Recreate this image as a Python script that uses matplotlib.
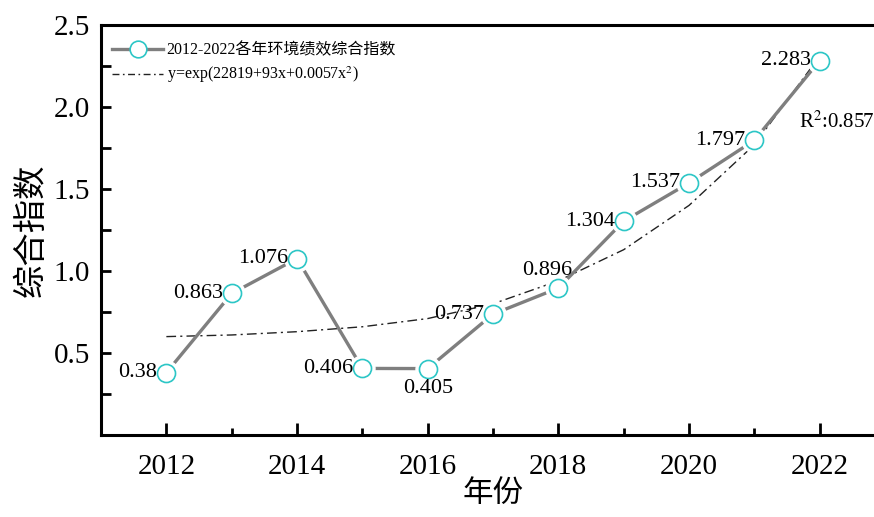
import matplotlib
matplotlib.use("Agg")
import matplotlib.pyplot as plt
from matplotlib.ticker import MultipleLocator
from matplotlib.lines import Line2D

plt.rcParams['font.family'] = ['Liberation Serif', 'Noto Sans CJK SC']
plt.rcParams['mathtext.fontset'] = 'stix'

years = [2012, 2013, 2014, 2015, 2016, 2017, 2018, 2019, 2020, 2021, 2022]
index_values = [0.38, 0.863, 1.076, 0.406, 0.405, 0.737, 0.896, 1.304, 1.537, 1.797, 2.283]
fit_values = [0.60, 0.61, 0.63, 0.66, 0.71, 0.80, 0.94, 1.13, 1.40, 1.77, 2.31]
value_labels = ['0.38', '0.863', '1.076', '0.406', '0.405', '0.737', '0.896',
                '1.304', '1.537', '1.797', '2.283']
series_name = '2012-2022各年环境绩效综合指数'
fit_name = 'y=exp(22819+93x+0.0057x$^2$)'
r2_text = 'R$^2$:0.857'

line_gray = '#7f7f7f'
ring_cyan = '#2cc6c6'

fig = plt.figure(figsize=(8.74, 5.17), dpi=100)
ax = fig.add_axes([0.1156, 0.1586, 0.897, 0.793])

# fitted trend curve
ax.plot(years, fit_values, color='#222222', lw=1.0, linestyle=(0, (7, 3, 1.5, 3)), zorder=2)

# main series: gray line, white halo round each marker, then the cyan ring
ax.plot(years, index_values, color=line_gray, lw=2.4, zorder=3)
ax.plot(years, index_values, linestyle='none', marker='o', markersize=18,
        markerfacecolor='white', markeredgecolor='white', zorder=4)
ax.plot(years, index_values, linestyle='none', marker='o', markersize=13,
        markerfacecolor='white', markeredgecolor=ring_cyan, markeredgewidth=1.2, zorder=5)

# value labels
offsets = {'0.405': (0, -14, 'center', 'center'),
           '0.896': (-8, 13, 'center', 'center')}
for x, y, txt in zip(years, index_values, value_labels):
    dx, dy, ha, va = offsets.get(txt, (-6.5, 0, 'right', 'center'))
    ax.annotate(txt, (x, y), xytext=(dx, dy), textcoords='offset points',
                ha=ha, va=va, fontsize=16, zorder=6)

ax.text(2021.68, 1.91, r2_text, fontsize=15, ha='left', va='center')

ax.set_xlim(2011, 2023)
ax.set_ylim(0, 2.5)
ax.xaxis.set_major_locator(MultipleLocator(2))
ax.xaxis.set_minor_locator(MultipleLocator(1))
ax.set_yticks([0.5, 1.0, 1.5, 2.0, 2.5])
ax.yaxis.set_minor_locator(MultipleLocator(0.25))
ax.tick_params(axis='both', which='both', direction='in', width=2, labelsize=21)
ax.tick_params(axis='x', which='major', length=9, pad=14)
ax.tick_params(axis='x', which='minor', length=5)
ax.tick_params(axis='y', which='major', length=7, pad=8)
ax.tick_params(axis='y', which='minor', length=7)
for side in ['left', 'bottom', 'top', 'right']:
    ax.spines[side].set_linewidth(2.2)

ax.set_xlabel('年份', fontsize=22, labelpad=0)
ax.set_ylabel('综合指数', fontsize=24, labelpad=4)

handles = [
    Line2D([], [], color=line_gray, lw=2.4, marker='o', markersize=12,
           markerfacecolor='white', markeredgecolor=ring_cyan, markeredgewidth=1.2),
    Line2D([], [], color='#222222', lw=1.0, linestyle=(0, (5, 2.5, 1.2, 2.5))),
]
ax.legend(handles, [series_name, fit_name], loc='upper left', bbox_to_anchor=(0.0, 0.985),
          frameon=False, fontsize=11.5, handlelength=3.2, handletextpad=0.2,
          labelspacing=0.4, borderaxespad=0.3)

fig.savefig('out.png', dpi=100)
